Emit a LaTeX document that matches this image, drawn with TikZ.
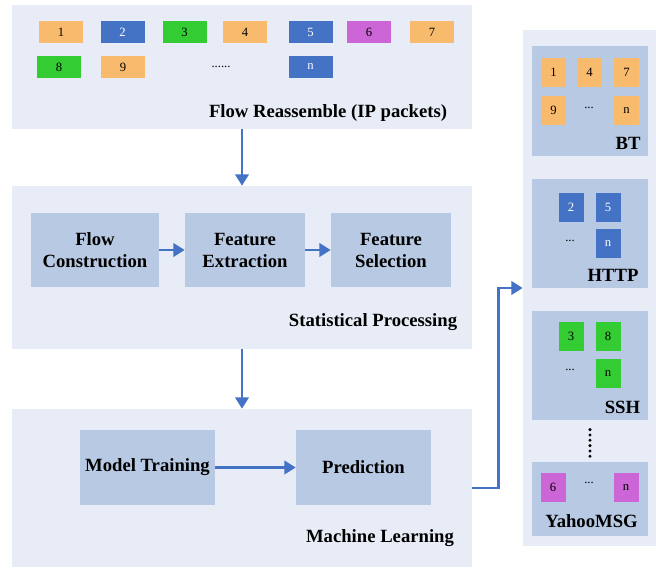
\documentclass[tikz,border=0pt]{standalone}
\usepackage{fontspec}
\setmainfont{Liberation Serif}
\usetikzlibrary{arrows.meta}
\usepackage{xcolor}
\definecolor{panelbg}{HTML}{E7ECF6}
\definecolor{stagebg}{HTML}{B8C9E3}
\definecolor{pkto}{HTML}{F8BB6E}
\definecolor{pktb}{HTML}{4472C4}
\definecolor{pktg}{HTML}{33CC33}
\definecolor{pktp}{HTML}{CC66D6}
\definecolor{flowblue}{HTML}{4472C4}

\begin{document}
\begin{tikzpicture}[x=0.75pt,y=-0.75pt,>={Triangle[length=8.5pt,width=10pt]},
	panel/.style={fill=panelbg,inner sep=0pt},
	stage/.style={fill=stagebg,inner sep=0pt,align=center,font=\fontsize{14}{16.5}\selectfont\bfseries},
	title/.style={font=\fontsize{14}{16.5}\selectfont\bfseries},
	pkt/.style={minimum width=33pt,minimum height=16.5pt,inner sep=0pt,font=\fontsize{9.5}{11}\selectfont},
	sq/.style={minimum width=18.75pt,minimum height=21.75pt,inner sep=0pt,font=\fontsize{9.5}{11}\selectfont},
	flow/.style={->,draw=flowblue,line width=2pt}]
	\useasboundingbox (0,0) rectangle (656,567);

	\node[panel,minimum width=345pt,minimum height=93pt] (reasm) at (242,67) {};
	\node[panel,minimum width=345pt,minimum height=122.25pt] (stat) at (242,267.5) {};
	\node[panel,minimum width=345pt,minimum height=118.5pt] (ml) at (242,488) {};
	\node[panel,minimum width=99.75pt,minimum height=387pt] (cls) at (589.5,288) {};

	\foreach \n/\x/\y/\c/\tc/\t in {
			1/61/32/pkto/black/1, 2/122.5/32/pktb/white/2, 3/184.5/32/pktg/black/3,
			4/245/32/pkto/black/4, 5/310.5/32/pktb/white/5, 6/369/32/pktp/black/6,
			7/432/32/pkto/black/7, 8/59/67/pktg/black/8, 9/123/67/pkto/black/9,
			10/310.5/67/pktb/white/n}
		\node[pkt,fill=\c,text=\tc] (pkt\n) at (\x,\y) {\t};
	\node[font=\fontsize{9.5}{11}\selectfont] (pktgap) at (221,67) {......};
	\node[title] (reasmlbl) at (328,113) {Flow Reassemble (IP packets)};

	\node[stage,minimum width=96pt,minimum height=55.5pt] (fc) at (95,250) {Flow\\Construction};
	\node[stage,minimum width=90pt,minimum height=55.5pt] (fe) at (245,250) {Feature\\Extraction};
	\node[stage,minimum width=90pt,minimum height=55.5pt] (fs) at (391,250) {Feature\\Selection};
	\node[title] (statlbl) at (373,322) {Statistical Processing};
	\draw[flow] (fc) -- (fe);
	\draw[flow] (fe) -- (fs);

	\node[stage,minimum width=101.25pt,minimum height=56.25pt] (train) at (147.5,467.5) {Model Training};
	\node[stage,minimum width=101.25pt,minimum height=56.25pt] (pred) at (363.5,467.5) {Prediction};
	\node[title] (mllbl) at (380,538) {Machine Learning};
	\draw[flow] (train) -- (pred);

	\draw[flow] (reasm) -- (stat);
	\draw[flow] (stat) -- (ml);
	\draw[flow] (ml.east) -- ++(26,0) |- (cls.west);

	\node[stage,minimum width=87pt,minimum height=82.5pt] (bt) at (590,101) {};
	\node[stage,minimum width=87pt,minimum height=81.75pt] (http) at (590,233.5) {};
	\node[stage,minimum width=87pt,minimum height=81.75pt] (ssh) at (590,365.5) {};
	\node[stage,minimum width=87pt,minimum height=55.5pt] (yahoo) at (590,499) {};
	\foreach \n/\x/\y/\c/\tc/\t in {
			bt1/553.5/72.5/pkto/black/1, bt4/589.5/72.5/pkto/black/4, bt7/626.5/72.5/pkto/black/7,
			bt9/553.5/110.5/pkto/black/9, btn/626.5/110.5/pkto/black/n,
			http2/571/207.5/pktb/white/2, http5/608/207.5/pktb/white/5, httpn/608/243.5/pktb/white/n,
			ssh3/571/336.5/pktg/black/3, ssh8/608/336.5/pktg/black/8, sshn/608/373.5/pktg/black/n,
			yahoo6/553/487.5/pktp/black/6, yahoon/626/487.5/pktp/black/n}
		\node[sq,fill=\c,text=\tc] (\n) at (\x,\y) {\t};
	\foreach \n/\x/\y in {bt/589/108, http/570/241, ssh/570/370, yahoo/589/483}
		\node[font=\fontsize{9.5}{11}\selectfont] (\n gap) at (\x,\y) {...};
	\node[title] (btlbl) at (628,143) {BT};
	\node[title] (httplbl) at (613,275) {HTTP};
	\node[title] (sshlbl) at (622.5,407) {SSH};
	\node[title] (yahoolbl) at (591.5,521) {YahooMSG};
	\draw[line width=2.5pt,line cap=round,dash pattern=on 0pt off 4pt,shorten <=7pt,shorten >=1.5pt] (ssh) -- (yahoo);
\end{tikzpicture}
\end{document}
